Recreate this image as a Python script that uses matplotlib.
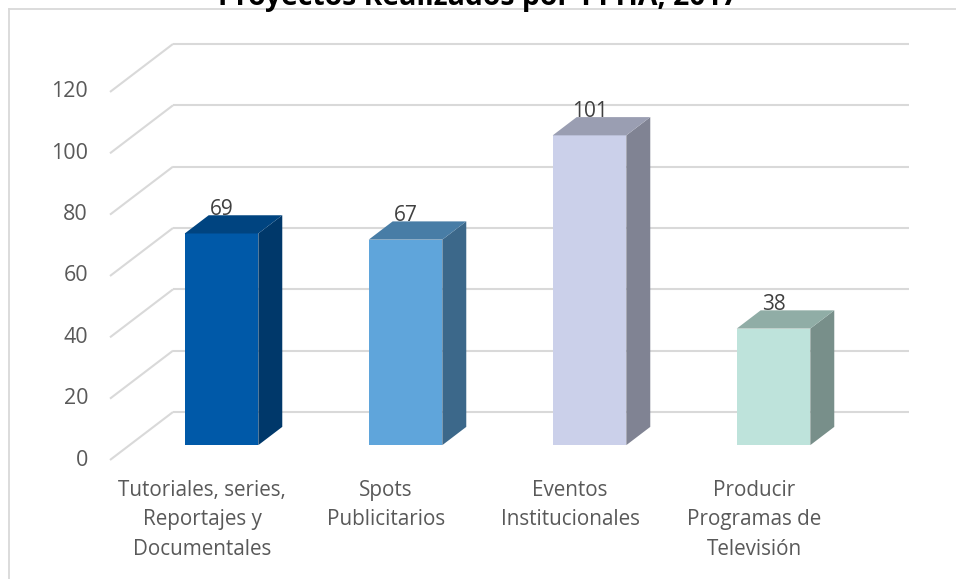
import matplotlib.pyplot as plt
from matplotlib.patches import Polygon
from matplotlib.lines import Line2D
import matplotlib.colors as mcolors

title = 'Proyectos Realizados por TTTIA, 2017'
categories = ['Tutoriales, series,\nReportajes y\nDocumentales',
              'Spots\nPublicitarios',
              'Eventos\nInstitucionales',
              'Producir\nProgramas de\nTelevisión']
values = [69, 67, 101, 38]
bar_colors = ['#0059a8', '#5fa5db', '#cbd0ea', '#bee3db']
yticks = [0, 20, 40, 60, 80, 100, 120]

plt.rcParams['font.family'] = ['Open Sans', 'DejaVu Sans']

W, H = 956, 579
fig = plt.figure(figsize=(W / 100, H / 100), dpi=100)
ax = fig.add_axes([0, 0, 1, 1])
ax.axis('off')

# pixel layout of the oblique 3D frame
px_cat = 184.0      # px per category
px_unit = 3.067     # px per value unit
x0_px, y0_px = 110, 460  # front-left corner of the floor
dx = 63 / px_cat    # depth shift in category units
dy = 48 / px_unit   # depth shift in value units

ax.set_xlim(-0.5 - x0_px / px_cat, -0.5 + (W - x0_px) / px_cat)
ax.set_ylim((y0_px - H) / px_unit, y0_px / px_unit)


def proj(x, v, d):
    return (x + d * dx, v + d * dy)


grid_kw = dict(color='#d9d9d9', lw=1.5, zorder=1, solid_capstyle='butt')
n = len(values)
for v in yticks:
    a, b = proj(-0.5, v, 0), proj(-0.5, v, 1)
    c = proj(n - 0.5, v, 1)
    ax.plot([a[0], b[0]], [a[1], b[1]], **grid_kw)
    ax.plot([b[0], c[0]], [b[1], c[1]], **grid_kw)
    ax.annotate(str(v), (-0.5, v), xytext=(-22, 0), textcoords='offset pixels',
                ha='right', va='center', fontsize=15.5, color='#595959')


def shade(c, f):
    r, g, b = mcolors.to_rgb(c)
    return (r * f, g * f, b * f)


hw, d0, d1 = 0.2, 0.31, 0.69
for i, (v, col) in enumerate(zip(values, bar_colors)):
    xl, xr = i - hw, i + hw
    front = [proj(xl, 0, d0), proj(xr, 0, d0), proj(xr, v, d0), proj(xl, v, d0)]
    side = [proj(xr, 0, d0), proj(xr, 0, d1), proj(xr, v, d1), proj(xr, v, d0)]
    top = [proj(xl, v, d0), proj(xr, v, d0), proj(xr, v, d1), proj(xl, v, d1)]
    ax.add_patch(Polygon(front, closed=True, fc=col, ec='none', zorder=3))
    ax.add_patch(Polygon(side, closed=True, fc=shade(col, 0.63), ec='none', zorder=3))
    ax.add_patch(Polygon(top, closed=True, fc=shade(col, 0.76), ec='none', zorder=3))
    ax.text(i + d0 * dx, v + d1 * dy, str(v), ha='center', va='baseline',
            fontsize=15, color='#404040', zorder=4)
    ax.annotate(categories[i], (i, 0), xytext=(0, -20), textcoords='offset pixels',
                ha='center', va='top', fontsize=14.9, color='#595959',
                linespacing=1.53)

# chart border and clipped title
border_kw = dict(color='#d9d9d9', lw=1.3, transform=fig.transFigure)
fig.add_artist(Line2D([8.5 / W, 8.5 / W], [0, 1 - 8.5 / H], **border_kw))
fig.add_artist(Line2D([8.5 / W, 1], [1 - 8.5 / H, 1 - 8.5 / H], **border_kw))
fig.text(0.5, 1 - 5 / H, title, ha='center', va='baseline',
         fontsize=20.4, fontweight='bold', color='black')

fig.savefig('out.png', dpi=100)
